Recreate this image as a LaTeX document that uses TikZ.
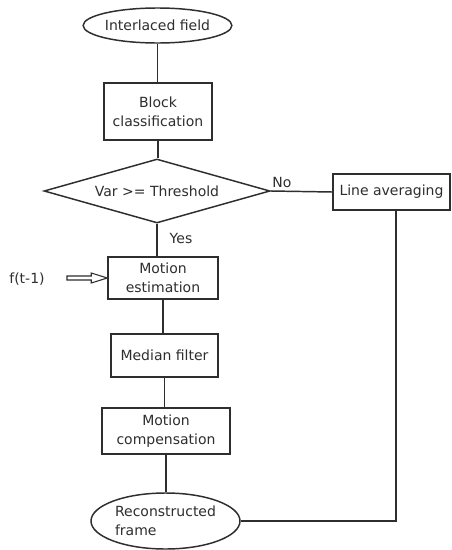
\documentclass[tikz,border=0pt]{standalone}
\usepackage{fontspec}
\setmainfont{DejaVu Sans}
\usetikzlibrary{shapes.geometric,calc}
\definecolor{ink}{HTML}{2E2E2E}
\begin{document}
\begin{tikzpicture}[x=0.75pt,y=-0.75pt,
  every node/.style={font=\fontsize{10.5}{14.25}\selectfont, text=ink},
  sz/.style 2 args={minimum width=#1*0.75pt, minimum height=#2*0.75pt, inner sep=0pt},
  procbox/.style={draw=ink, line width=1.1pt, rectangle, align=center},
  oval/.style={draw=ink, line width=1.1pt, ellipse},
  decision/.style={draw=ink, line width=1.1pt, diamond, shape aspect=3.53},
  conn/.style={draw=ink, line width=1.1pt},
  lbl/.style={inner sep=0pt}]
\useasboundingbox (0,0) rectangle (452,550);
\fill[white] (0,0) rectangle (452,550);

\node[oval, sz={139}{35}] (in) at (157.5,25.5) {Interlaced field};
\node[procbox, sz={108}{57}] (bc) at (158,111.5) {Block\\classification};
\node[decision, sz={226}{64}] (var) at (157,191) {Var >= Threshold};
\node[procbox, sz={117}{36}] (la) at (391.5,192) {Line averaging};
\node[procbox, sz={110}{42}] (me) at (163,278) {Motion\\estimation};
\node[procbox, sz={107}{43}] (mf) at (164.5,355.5) {Median filter};
\node[procbox, sz={128}{46}] (mc) at (166,431) {Motion\\compensation};
\node[oval, sz={149}{56}, align=left] (rf) at (165.5,521) {Reconstructed\\frame};

\node[lbl] (no) at (282,182) {No};
\node[lbl] (yes) at (181,238) {Yes};
\node[lbl] (ft) at (27,279) {f(t-1)};
\coordinate (ain) at (67,278);

\draw[conn] (in.south) -- (in.south |- bc.north);
\draw[conn] (bc.south) -- (bc.south |- var.north);
\draw[conn] (var.east) -- (la.west);
\draw[conn] (var.south) -- (var.south |- me.north);
\draw[conn] (me.south) -- (me.south |- mf.north);
\draw[conn] (mf.south) -- (mf.south |- mc.north);
\draw[conn] (mc.south) -- (mc.south |- rf.north);
\draw[conn] ($(la.south)+(4.5,0)$) -- ($(la.south |- rf.east)+(4.5,0)$) -- (rf.east);

\draw[draw=ink, line width=0.8pt, fill=white]
  ($(ain)+(0,-2)$) -- ($(me.west)+(-16,-2)$) -- ($(me.west)+(-16,-5)$) --
  (me.west) -- ($(me.west)+(-16,5)$) -- ($(me.west)+(-16,2)$) --
  ($(ain)+(0,2)$) -- cycle;
\end{tikzpicture}
\end{document}
